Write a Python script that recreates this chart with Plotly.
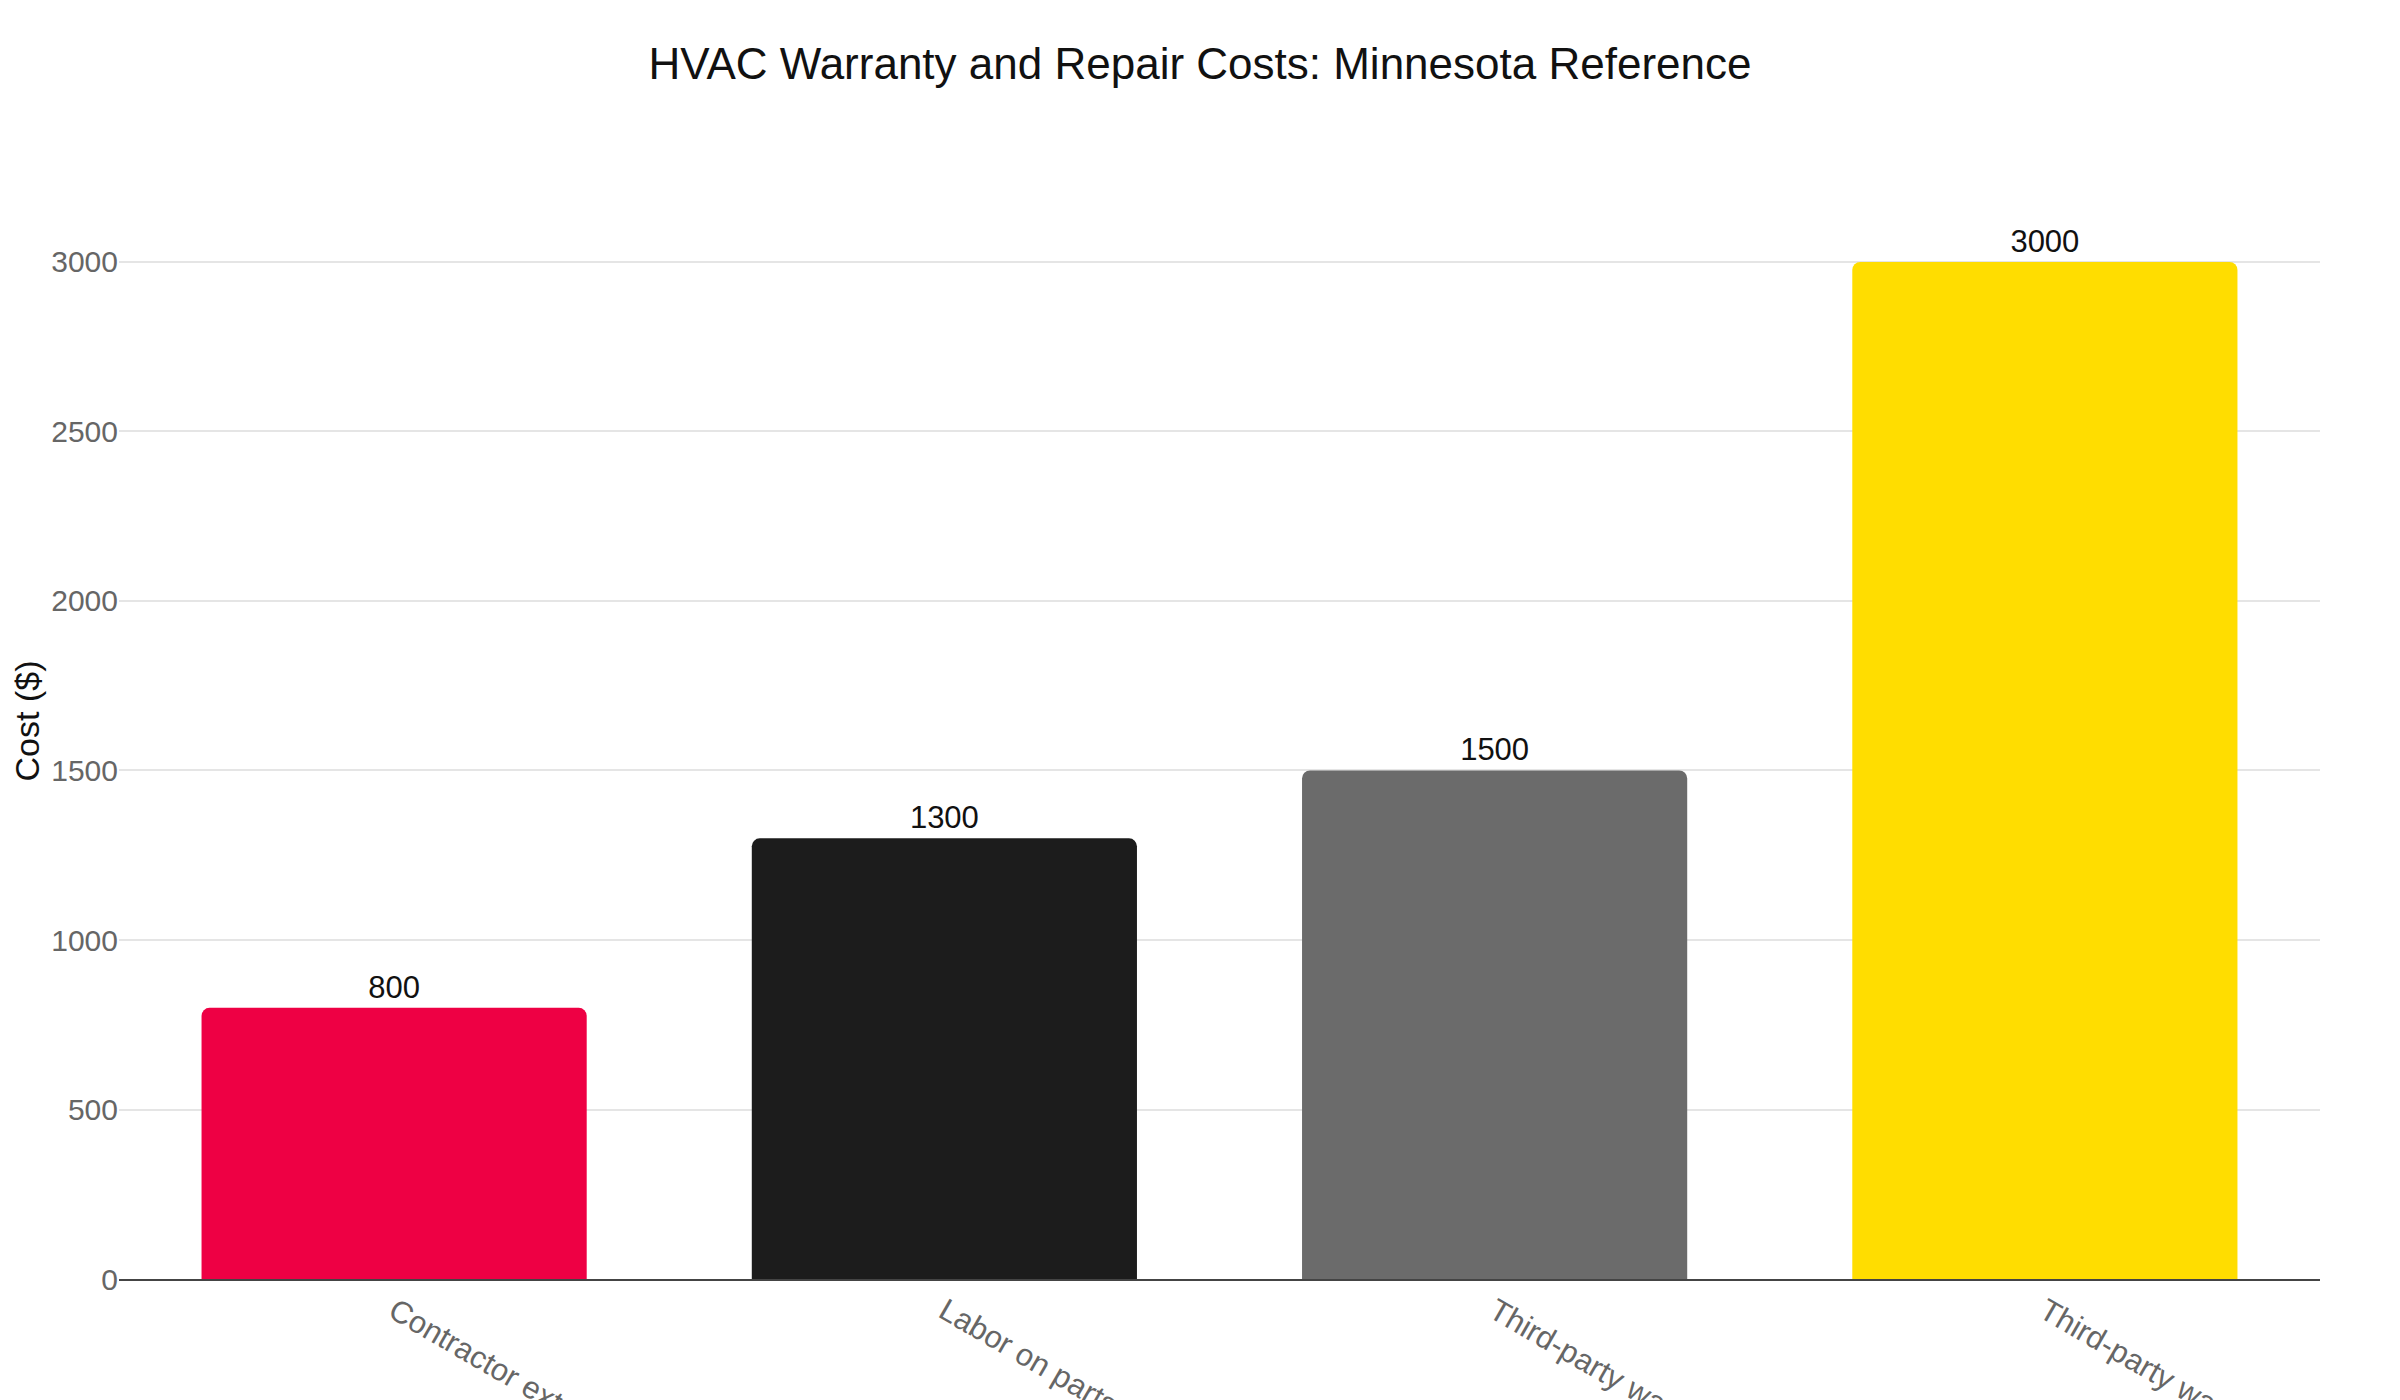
import plotly.graph_objects as go

# Chart data
categories = [
    "Contractor extended warranty",
    "Labor on parts-only warranty",
    "Third-party warranty (low)",
    "Third-party warranty (high)",
]
costs = [800, 1300, 1500, 3000]
bar_colors = ["#EE0044", "#1C1C1C", "#6B6B6B", "#FFDD00"]

chart_title = "HVAC Warranty and Repair Costs: Minnesota Reference"
font_family = "Liberation Sans, Arial, sans-serif"

fig = go.Figure()

fig.add_trace(go.Bar(
    x=categories,
    y=costs,
    marker=dict(color=bar_colors, line=dict(width=0), cornerradius=8),
    text=costs,
    textposition="outside",
    textfont=dict(size=31, color="#111111", family=font_family),
    cliponaxis=False,
    showlegend=False,
))

# page body adds ~8px offset, so margins are shifted to compensate
fig.update_layout(
    width=2400,
    height=1400,
    paper_bgcolor="white",
    plot_bgcolor="white",
    font=dict(family=font_family),
    title=dict(
        text=chart_title,
        x=1192 / 2400,
        xanchor="center",
        y=1 - 56 / 1400,
        yanchor="middle",
        font=dict(size=44, color="#111111", family=font_family),
    ),
    margin=dict(l=111, r=88, t=155, b=129, autoexpand=False),
    bargap=0.3,
)

fig.update_xaxes(
    tickangle=30,
    tickfont=dict(size=31, color="#666666", family=font_family),
    showline=True,
    linecolor="#444444",
    linewidth=2,
    showgrid=False,
    ticks="",
    automargin=False,
)

fig.update_yaxes(
    title=dict(text="Cost ($)", font=dict(size=34, color="#111111", family=font_family)),
    range=[0, 3292],
    tickvals=[0, 500, 1000, 1500, 2000, 2500, 3000],
    tickfont=dict(size=30, color="#666666", family=font_family),
    showgrid=True,
    gridcolor="#E5E5E5",
    gridwidth=2,
    zeroline=False,
    ticks="",
    automargin=False,
)

fig.write_html("out.html")
